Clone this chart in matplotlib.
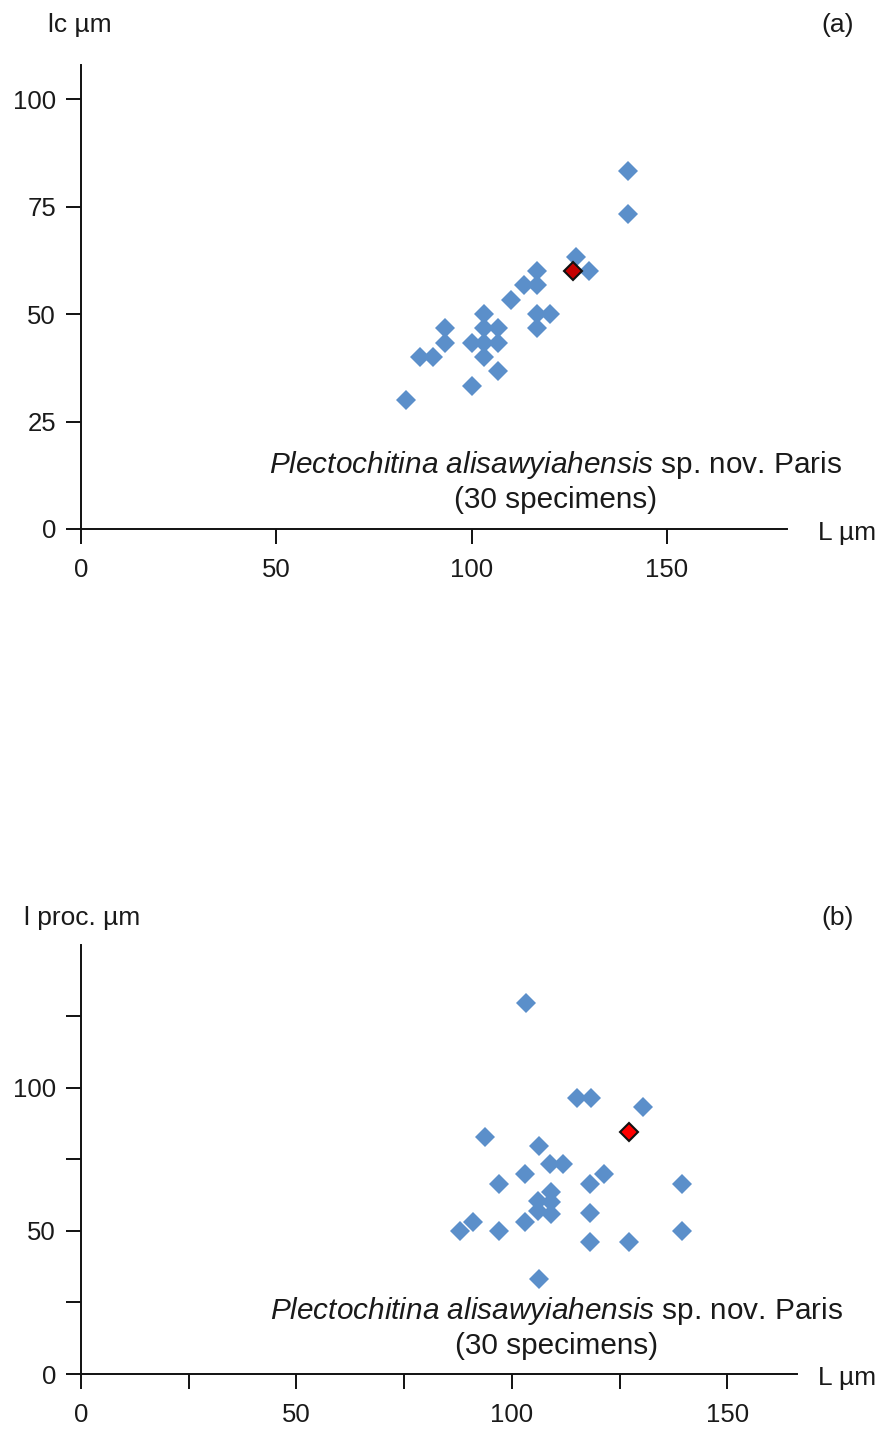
import matplotlib
matplotlib.use("Agg")
import matplotlib.pyplot as plt
from matplotlib.ticker import FixedLocator

plt.rcParams['font.family'] = ['Liberation Sans', 'DejaVu Sans']
plt.rcParams['mathtext.fontset'] = 'custom'
plt.rcParams['mathtext.rm'] = 'Liberation Sans'
plt.rcParams['mathtext.it'] = 'Liberation Sans:italic'

# panel (a): L vs lc
a_L = [140, 140, 126.7, 130, 116.7, 113.3, 116.7, 110, 116.7, 120, 116.7,
       103.3, 103.3, 106.7, 100, 103.3, 106.7, 103.3, 106.7, 100, 83.3,
       93.3, 93.3, 86.7, 90]
a_lc = [83.3, 73.3, 63.3, 60, 60, 56.7, 56.7, 53.3, 50, 50, 46.7,
        50, 46.7, 46.7, 43.3, 43.3, 43.3, 40, 36.7, 33.3, 30,
        46.7, 43.3, 40, 40]
a_red_L = [126]
a_red_lc = [60]

# panel (b): L vs l proc.
b_L = [103.2, 115.1, 118.3, 130.4, 93.8, 106.2, 108.8, 112.0, 103.0, 121.3,
       97.1, 118.2, 139.5, 109.2, 106.1, 109.2, 106.1, 109.2, 103.0, 91.1,
       88.0, 97.1, 118.2, 118.2, 127.3, 139.5, 106.2]
b_lp = [129.6, 96.4, 96.4, 93.3, 83.0, 79.8, 73.3, 73.3, 69.9, 69.9,
        66.4, 66.4, 66.4, 63.7, 60.5, 60.0, 57.0, 56.1, 53.3, 53.3,
        50.1, 50.1, 56.4, 46.3, 46.3, 50.1, 33.2]
b_red_L = [127.1]
b_red_lp = [84.6]

species = r"$\mathit{Plectochitina\ alisawyiahensis}$ sp. nov. Paris"
count_label = "(30 specimens)"

blue = '#5b8fca'
txt = '#1a1a1a'

fig = plt.figure(figsize=(8.9, 14.32), dpi=100)


def style_axes(ax):
    for s in ['top', 'right']:
        ax.spines[s].set_visible(False)
    for s in ['left', 'bottom']:
        ax.spines[s].set_linewidth(1.4)
        ax.spines[s].set_color('#111111')
        ax.spines[s].set_clip_on(False)
    ax.tick_params(which='both', direction='out', length=11, width=1.4,
                   color='#111111', labelsize=18.5, labelcolor=txt)
    ax.tick_params(axis='x', pad=10)
    ax.tick_params(axis='y', pad=7)
    ax.set_facecolor('none')


# (a)
ax1 = fig.add_axes([0.091, 0.6306, 0.793, 0.324])
ax1.plot(a_L, a_lc, 'D', color=blue, ms=9.8, mew=0, clip_on=False)
ax1.plot(a_red_L, a_red_lc, 'D', color='#c40000', ms=9.4, mec='#111111',
         mew=1.5, clip_on=False)
ax1.set_xlim(0, 180.7)
ax1.set_ylim(0, 108)
ax1.xaxis.set_major_locator(FixedLocator([0, 50, 100, 150]))
ax1.yaxis.set_major_locator(FixedLocator([0, 25, 50, 75, 100]))
style_axes(ax1)
ax1.text(121.6, 14.9, species, ha='center', va='center', fontsize=21.4, color=txt)
ax1.text(121.6, 6.7, count_label, ha='center', va='center', fontsize=21.4, color=txt)

# (b)
ax2 = fig.add_axes([0.091, 0.0405, 0.8045, 0.2996])
ax2.plot(b_L, b_lp, 'D', color=blue, ms=9.8, mew=0, clip_on=False)
ax2.plot(b_red_L, b_red_lp, 'D', color='#ff0000', ms=9.4, mec='#111111',
         mew=1.5, clip_on=False)
ax2.set_xlim(0, 166.2)
ax2.set_ylim(0, 150)
ax2.xaxis.set_major_locator(FixedLocator([0, 50, 100, 150]))
ax2.xaxis.set_minor_locator(FixedLocator([25, 75, 125]))
ax2.yaxis.set_major_locator(FixedLocator([0, 50, 100]))
ax2.yaxis.set_minor_locator(FixedLocator([25, 75, 125]))
style_axes(ax2)
ax2.text(110.3, 22, species, ha='center', va='center', fontsize=21.4, color=txt)
ax2.text(110.3, 9.8, count_label, ha='center', va='center', fontsize=21.4, color=txt)

# axis titles and panel letters
fig.text(0.09, 1 - 25 / 1432, "lc µm", ha='center', va='center', fontsize=19, color=txt)
fig.text(0.9416, 1 - 25 / 1432, "(a)", ha='center', va='center', fontsize=19, color=txt)
fig.text(0.919, 1 - 533 / 1432, "L µm", ha='left', va='center', fontsize=19, color=txt)

fig.text(0.092, 1 - 918 / 1432, "l proc. µm", ha='center', va='center', fontsize=19, color=txt)
fig.text(0.9416, 1 - 918 / 1432, "(b)", ha='center', va='center', fontsize=19, color=txt)
fig.text(0.919, 1 - 1378 / 1432, "L µm", ha='left', va='center', fontsize=19, color=txt)

fig.savefig("out.png", dpi=100, facecolor='white')
